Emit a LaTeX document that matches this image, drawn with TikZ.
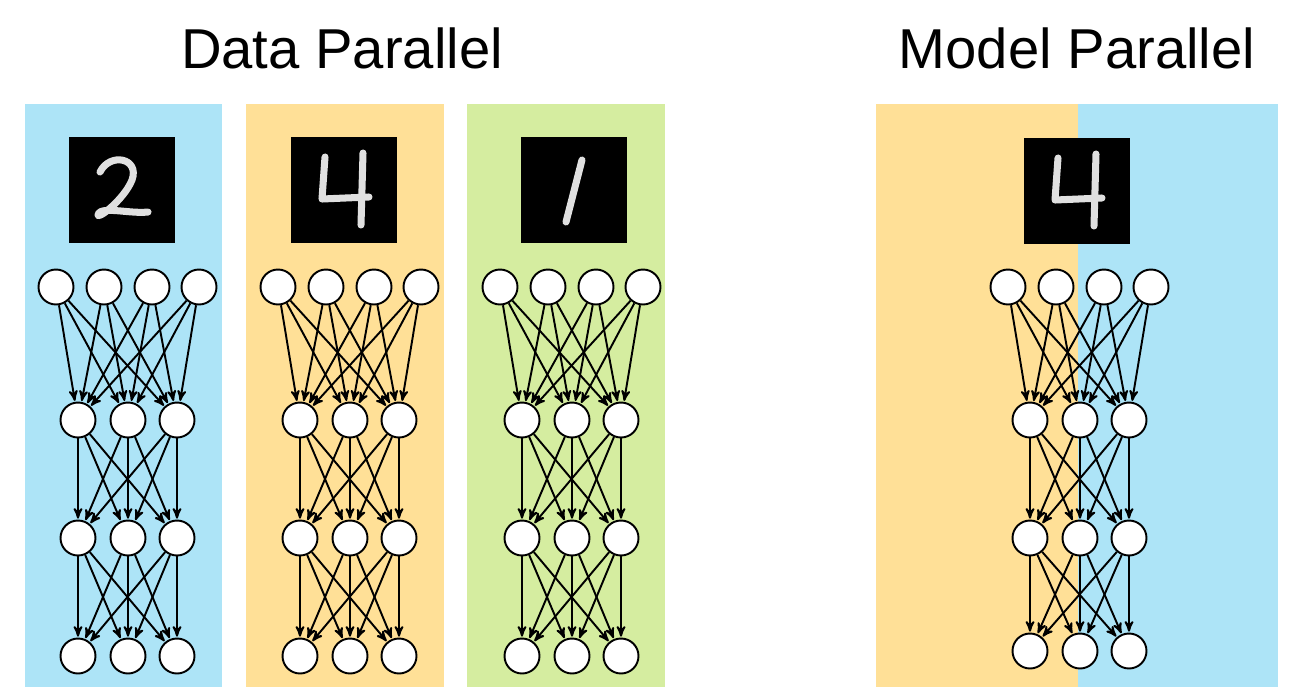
\documentclass[tikz,border=0pt]{standalone}
\usepackage{fontspec}
\setmainfont{Liberation Sans}
\usetikzlibrary{arrows}
\definecolor{gpublue}{HTML}{ADE4F7}
\definecolor{gpuorange}{HTML}{FFE097}
\definecolor{gpugreen}{HTML}{D5EDA0}
% one small network, #1 = prefix, #2 = x offset, #3 = y of last layer
\newcommand{\mlp}[3]{
  \foreach \i/\x in {1/0,2/48,3/96,4/143}
    \node[unit] (#1a\i) at (#2+\x,287) {};
  \foreach \l/\y in {b/420,c/538,d/#3}
    \foreach \i/\x in {1/22,2/72,3/121}
      \node[unit] (#1\l\i) at (#2+\x,\y) {};
  \foreach \i in {1,...,4}
    \foreach \j in {1,2,3}
      \path[link] (#1a\i) edge (#1b\j);
  \foreach \i in {1,2,3}
    \foreach \j in {1,2,3}{
      \path[link] (#1b\i) edge (#1c\j);
      \path[link] (#1c\i) edge (#1d\j);
    }
}
\begin{document}
\begin{tikzpicture}[x=0.02cm,y=-0.02cm,>=stealth',
    unit/.style={circle,draw,fill=white,line width=1.1pt,minimum size=0.7cm,inner sep=0pt},
    link/.style={->,line width=1.1pt,shorten >=0.5pt},
    digit/.style={draw=white!88!black,line width=4pt,line cap=round,line join=round},
    title/.style={font=\fontsize{32}{38}\selectfont}]
  \useasboundingbox (0,0) rectangle (1316,687);
  % panels
  \fill[gpublue] (25,104) rectangle (222,687);
  \fill[gpuorange] (246,104) rectangle (444,687);
  \fill[gpugreen] (467,104) rectangle (665,687);
  \fill[gpuorange] (876,104) rectangle (1078,687);
  \fill[gpublue] (1078,104) rectangle (1278,687);
  \node[title] (dp) at (342,48) {Data Parallel};
  \node[title] (mp) at (1077,48) {Model Parallel};
  % digit images
  \fill[black] (69,137) rectangle (175,243);
  \draw[digit] (100,172) .. controls (110,152) and (140,158) .. (132,180)
    .. controls (124,200) and (95,222) .. (98,214) .. controls (102,206) and (130,214) .. (148,212);
  \foreach \dx/\dy in {291/137,1024/138}{
    \fill[black] (\dx,\dy) rectangle (\dx+106,\dy+106);
    \draw[digit] (\dx+34,\dy+20) -- (\dx+31,\dy+62) -- (\dx+78,\dy+60);
    \draw[digit] (\dx+72,\dy+16) -- (\dx+70,\dy+88);
  }
  \fill[black] (521,137) rectangle (627,243);
  \draw[digit] (582,160) -- (566,222);
  % networks
  \mlp{p}{56}{656}
  \mlp{q}{278}{656}
  \mlp{r}{500}{656}
  \mlp{m}{1008}{651}
\end{tikzpicture}
\end{document}
